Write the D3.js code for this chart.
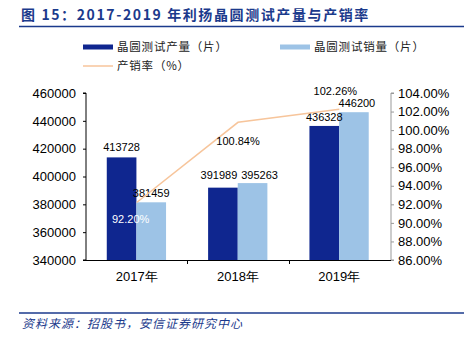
<!DOCTYPE html>
<html><head><meta charset="utf-8">
<script src="https://cdn.jsdelivr.net/npm/d3@7"></script>
<style>
body{margin:0;background:#fff;}
svg{display:block;}
</style></head>
<body>
<svg id="c" width="470" height="340"></svg>
<script>
const categories = ["2017年", "2018年", "2019年"];
const seriesNames = ["晶圆测试产量（片）", "晶圆测试销量（片）"];
const production = [413728, 391989, 436328];
const sales = [381459, 395263, 446200];
const rate = [92.20, 100.84, 102.26];
const leftTicks = [340000, 360000, 380000, 400000, 420000, 440000, 460000];
const rightTicks = [86, 88, 90, 92, 94, 96, 98, 100, 102, 104];
const lineName = "产销率（%）";
const title = "图 15：2017-2019 年利扬晶圆测试产量与产销率";
const source = "资料来源：招股书，安信证券研究中心";

const colors = ["#0f268f", "#9dc3e6"];
const lineColor = "#f7c59b";
const numFont = "Liberation Sans, Arial, sans-serif";
const cjkFont = "Noto Sans CJK SC, sans-serif";

const svg = d3.select("#c");
const L = 86, R = 391, T = 93, B = 260;

// title
svg.append("text").attr("x", 21).attr("y", 20)
  .attr("font-family", cjkFont).attr("font-weight", "bold").attr("font-size", 14)
  .attr("letter-spacing", 1.6)
  .attr("fill", "#1b3a8c").text(title);
svg.append("line").attr("x1", 19).attr("x2", 464).attr("y1", 26.5).attr("y2", 26.5)
  .attr("stroke", "#1b3a8c").attr("stroke-width", 1.5);
svg.append("line").attr("x1", 19).attr("x2", 464).attr("y1", 313).attr("y2", 313)
  .attr("stroke", "#1b3a8c").attr("stroke-width", 1.5);
svg.append("text").attr("x", 22).attr("y", 328)
  .attr("font-family", cjkFont).attr("font-style", "italic").attr("font-size", 12)
  .attr("letter-spacing", 1)
  .attr("fill", "#1b3a8c").text(source);

// scales
const x0 = d3.scaleBand().domain(categories).range([L, R - 1]);
const bw = x0.bandwidth();
const x1 = d3.scaleBand().domain(seriesNames).range([bw * 0.205, bw * 0.79]);
const yL = d3.scaleLinear().domain([340000, 460000]).range([B, T]);
const yR = d3.scaleLinear().domain([86, 104]).range([B, T]);

// bars
const data = categories.map((c, i) => ({c, vals: [production[i], sales[i]]}));
const g = svg.append("g");
data.forEach(d => {
  d.vals.forEach((v, j) => {
    g.append("rect")
      .attr("x", x0(d.c) + x1(seriesNames[j]))
      .attr("y", yL(v))
      .attr("width", x1.bandwidth())
      .attr("height", B - yL(v))
      .attr("fill", colors[j]);
  });
});

// axes
const axL = d3.axisLeft(yL).tickValues(leftTicks).tickSize(3).tickFormat(d3.format("d"));
const gL = svg.append("g").attr("transform", `translate(${L},0)`).call(axL);
gL.select(".domain").attr("stroke", "#000").attr("d", `M-3,${T}H0V${B}H-3`);
gL.selectAll(".tick line").attr("stroke", "#000");
gL.selectAll("text").attr("font-family", numFont).attr("font-size", 13).attr("fill", "#000").attr("x", -10);

const axR = d3.axisRight(yR).tickValues(rightTicks).tickSize(3).tickFormat(d => d.toFixed(2) + "%");
const gR = svg.append("g").attr("transform", `translate(${R},0)`).call(axR);
gR.select(".domain").attr("stroke", "#999").attr("d", `M3,${T}H0V${B}H3`);
gR.selectAll(".tick line").attr("stroke", "#999");
gR.selectAll("text").attr("font-family", numFont).attr("font-size", 13).attr("fill", "#000").attr("x", 7);

// bottom axis
const gB = svg.append("g");
gB.append("line").attr("x1", L).attr("x2", R).attr("y1", B + 0.5).attr("y2", B + 0.5).attr("stroke", "#000");
categories.slice(1).forEach(c => {
  const xx = Math.round(x0(c)) + 0.5;
  gB.append("line").attr("x1", xx).attr("x2", xx).attr("y1", B).attr("y2", B + 4).attr("stroke", "#000");
});
categories.forEach(c => {
  gB.append("text").attr("x", x0(c) + bw / 2).attr("y", B + 21)
    .attr("text-anchor", "middle").attr("font-family", numFont).attr("font-size", 13)
    .attr("fill", "#000").text(c);
});

// bar labels
const barLabelOff = [[[0, -6], [0, -5]], [[-4, -9], [7, -4]], [[0, -5], [3, -5]]];
data.forEach((d, i) => {
  d.vals.forEach((v, j) => {
    g.append("text")
      .attr("x", x0(d.c) + x1(seriesNames[j]) + x1.bandwidth() / 2 + barLabelOff[i][j][0])
      .attr("y", yL(v) + barLabelOff[i][j][1])
      .attr("text-anchor", "middle").attr("font-family", numFont).attr("font-size", 11)
      .attr("fill", "#000").text(v);
  });
});

// line
const line = d3.line().x((d, i) => x0(categories[i]) + bw / 2).y(d => yR(d));
svg.append("path").datum(rate).attr("d", line).attr("fill", "none")
  .attr("stroke", lineColor).attr("stroke-width", 1.5);

// rate labels
const rateOff = [[-6, 21, "#fff"], [0, 23, "#000"], [-4, -14, "#000"]];
rate.forEach((r, i) => {
  svg.append("text")
    .attr("x", x0(categories[i]) + bw / 2 + rateOff[i][0])
    .attr("y", yR(r) + rateOff[i][1])
    .attr("text-anchor", "middle").attr("font-family", numFont).attr("font-size", 11)
    .attr("fill", rateOff[i][2]).text(r.toFixed(2) + "%");
});

// legend
const leg = [
  {x: 83, y: 47, type: "bar", color: colors[0], label: seriesNames[0]},
  {x: 280, y: 47, type: "bar", color: colors[1], label: seriesNames[1]},
  {x: 83, y: 66, type: "line", color: lineColor, label: lineName}
];
leg.forEach(l => {
  if (l.type === "bar") {
    svg.append("rect").attr("x", l.x).attr("y", l.y - 2.5).attr("width", 30).attr("height", 5).attr("fill", l.color);
  } else {
    svg.append("line").attr("x1", l.x).attr("x2", l.x + 30).attr("y1", l.y).attr("y2", l.y).attr("stroke", l.color).attr("stroke-width", 1.5);
  }
  svg.append("text").attr("x", l.x + 34).attr("y", l.y + 4)
    .attr("font-family", cjkFont).attr("font-size", 11.5).attr("letter-spacing", 0.8)
    .attr("fill", "#222").text(l.label);
});
</script>
</body></html>
